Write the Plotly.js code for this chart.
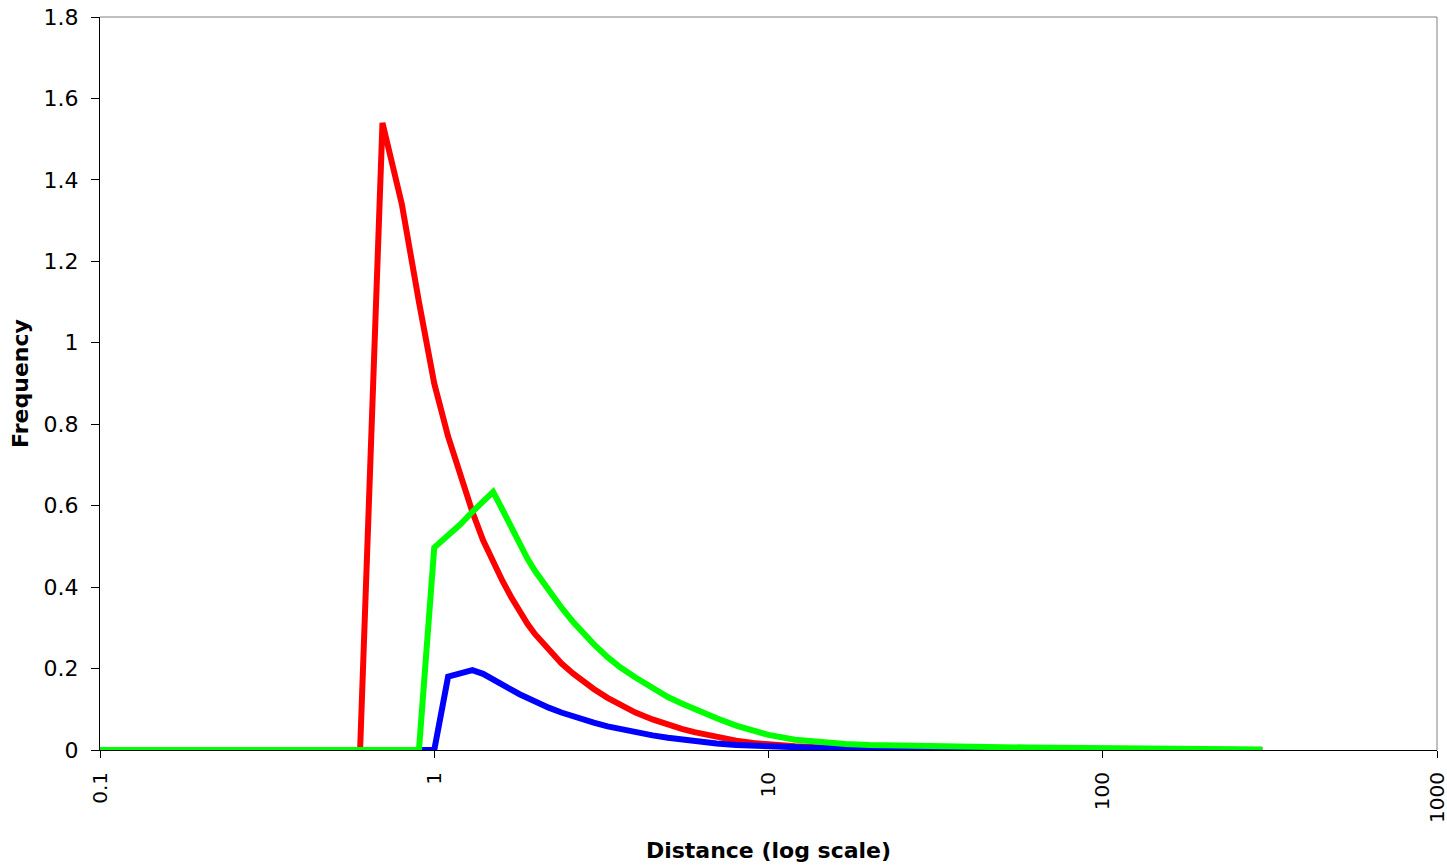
<!DOCTYPE html>
<html>
<head>
<meta charset="utf-8">
<script src="https://cdn.plot.ly/plotly-3.0.1.min.js"></script>
<style>html,body{margin:0;padding:0;background:#fff;}#chart{width:1447px;height:866px;}</style>
</head>
<body>
<div id="chart"></div>
<script>
// Shared distance samples
const distance = [0.1,0.2,0.3,0.4,0.5,0.6,0.7,0.8,0.9,1.0,1.1,1.2,1.3,1.4,1.5,1.6,1.7,1.8,1.9,2.0,2.2,2.4,2.6,2.8,3.0,3.3,3.6,4,4.5,5,5.5,6,7,8,9,10,12,14,17,20,25,30,40,50,60,80,100,150,200,300];
// Red series
const redFreq = [0,0,0,0,0,0,1.54,1.34,1.10,0.90,0.77,0.67,0.585,0.515,0.46,0.415,0.375,0.34,0.31,0.285,0.245,0.213,0.188,0.167,0.15,0.128,0.11,0.092,0.075,0.062,0.052,0.044,0.032,0.023,0.017,0.013,0.009,0.007,0.005,0.004,0.003,0.002,0.001,0.001,0,0,0,0,0,0];
// Green series
const greenFreq = [0,0,0,0,0,0,0,0,0,0.497,0.525,0.555,0.585,0.61,0.634,0.59,0.545,0.505,0.47,0.44,0.39,0.35,0.315,0.285,0.26,0.228,0.203,0.178,0.152,0.13,0.114,0.10,0.078,0.06,0.047,0.037,0.025,0.019,0.015,0.012,0.010,0.009,0.008,0.007,0.006,0.005,0.004,0.003,0.002,0.001];
// Blue series
const blueFreq = [0,0,0,0,0,0,0,0,0,0,0.18,0.19,0.196,0.187,0.172,0.16,0.148,0.137,0.127,0.118,0.104,0.092,0.082,0.074,0.067,0.058,0.051,0.043,0.036,0.03,0.025,0.021,0.016,0.012,0.01,0.008,0.006,0.005,0.004,0.003,0.003,0.002,0.0015,0.001,0.001,0.0005,0.0005,0,0,0];
const xTickVals = [0.1,1,10,100,1000];
const xTickText = ['0.1','1','10','100','1000'];

const traces = [
  {x: distance, y: redFreq, type:'scatter', mode:'lines', line:{color:'#ff0000', width:6}, name:'red'},
  {x: distance, y: blueFreq, type:'scatter', mode:'lines', line:{color:'#0000ff', width:6}, name:'blue'},
  {x: distance, y: greenFreq, type:'scatter', mode:'lines', line:{color:'#00ff00', width:6}, name:'green'}
];

const fam = 'DejaVu Sans, Verdana, sans-serif';
const layout = {
  width:1447, height:866,
  margin:{l:100, r:10, t:17, b:116},
  paper_bgcolor:'#fff', plot_bgcolor:'#fff',
  showlegend:false,
  xaxis:{
    type:'log', range:[-1,3],
    tickvals:xTickVals, ticktext:xTickText, tickangle:-90,
    ticks:'outside', ticklen:7, tickcolor:'#000', tickwidth:1,
    ticklabeloverflow:'allow', ticklabelstandoff:6,
    showgrid:false, zeroline:false,
    showline:true, linecolor:'#000', linewidth:1,
    tickfont:{family:fam, size:20, color:'#000'},
    title:{text:'Distance (log scale)', font:{family:fam, size:22, color:'#000', weight:'bold'}, standoff:20}
  },
  yaxis:{
    range:[0,1.8], dtick:0.2, tick0:0,
    ticks:'outside', ticklen:8, tickcolor:'#000', tickwidth:1,
    ticklabelstandoff:8,
    showgrid:false, zeroline:false,
    showline:true, linecolor:'#000', linewidth:1,
    tickfont:{family:fam, size:22, color:'#000'},
    title:{text:'Frequency', font:{family:fam, size:22, color:'#000', weight:'bold'}, standoff:8}
  },
  shapes:[
    {type:'line', xref:'paper', yref:'paper', x0:0, x1:1, y0:1, y1:1, line:{color:'#808080', width:1}},
    {type:'line', xref:'paper', yref:'paper', x0:1, x1:1, y0:0, y1:1, line:{color:'#808080', width:1}}
  ]
};
Plotly.newPlot('chart', traces, layout, {displayModeBar:false, staticPlot:true});
</script>
</body>
</html>
